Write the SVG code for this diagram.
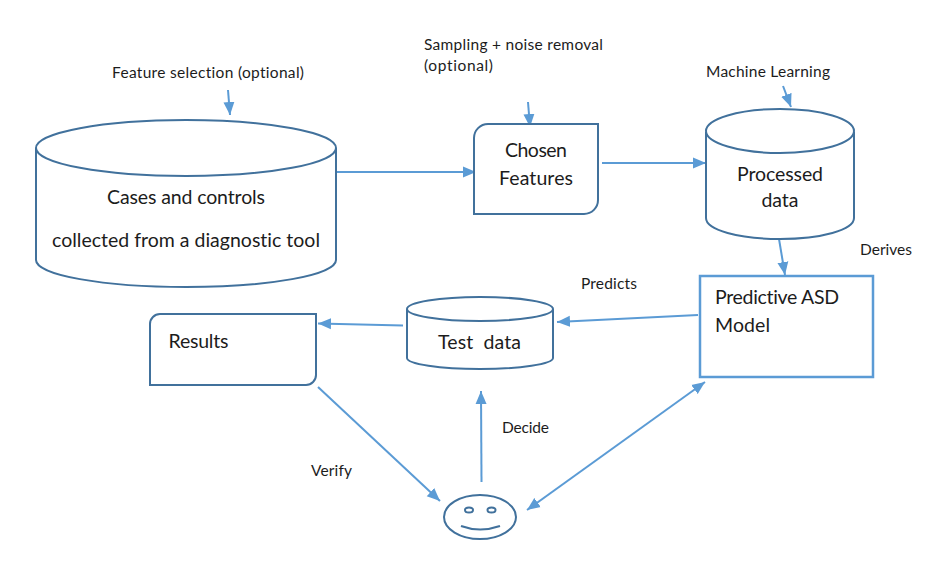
<svg xmlns="http://www.w3.org/2000/svg" width="950" height="565" viewBox="0 0 950 565">
<style>
.n{fill:#fff;stroke:#41719c;stroke-width:2}
.m{fill:#fff;stroke:#5b9bd5;stroke-width:2.5}
.c{fill:none;stroke:#5b9bd5;stroke-width:2}
.a{marker-end:url(#ah)}
.d{marker-start:url(#ahs);marker-end:url(#ah)}
text{font-family:Lato,"Open Sans",sans-serif;fill:#1c1c1c;white-space:pre;font-variant-ligatures:none}
.s{font-size:15.5px}
.l{font-size:19.5px}
</style>
<defs>
<marker id="ah" markerUnits="userSpaceOnUse" markerWidth="14" markerHeight="12" refX="13" refY="6" orient="auto"><path d="M0 0.5L13 6L0 11.5Z" fill="#5b9bd5"/></marker>
<marker id="ahs" markerUnits="userSpaceOnUse" markerWidth="14" markerHeight="12" refX="1" refY="6" orient="auto"><path d="M14 0.5L1 6L14 11.5Z" fill="#5b9bd5"/></marker>
</defs>
<rect width="950" height="565" fill="#fff"/>
<g id="connectors">
<line class="c a" x1="228" y1="90" x2="230" y2="115"/>
<line class="c a" x1="336" y1="172" x2="476" y2="172"/>
<line class="c a" x1="528" y1="102" x2="530" y2="127"/>
<line class="c a" x1="602" y1="163" x2="706" y2="163"/>
<line class="c a" x1="783" y1="86" x2="791" y2="107"/>
<line class="c a" x1="779" y1="239" x2="785" y2="275"/>
<line class="c a" x1="698" y1="315" x2="557" y2="322"/>
<line class="c a" x1="403" y1="325.5" x2="318" y2="323.5"/>
<line class="c a" x1="318" y1="387" x2="440" y2="501"/>
<line class="c a" x1="481.5" y1="482" x2="481" y2="391"/>
<line class="c d" x1="527" y1="510" x2="705" y2="382"/>
</g>
<g id="cases">
<path class="n" d="M36 148V260C36 275 103 287 186 287S336 275 336 260V148"/>
<ellipse class="n" cx="186" cy="148" rx="150" ry="28"/>
<text class="l" x="186" y="204" text-anchor="middle" textLength="158">Cases and controls</text>
<text class="l" x="186" y="247" text-anchor="middle" textLength="268">collected from a diagnostic tool</text>
</g>
<g id="chosen">
<path class="n" d="M488 124H598V200A14 14 0 0 1 584 214H474V138A14 14 0 0 1 488 124Z"/>
<text class="l" x="536" y="157" text-anchor="middle" textLength="62">Chosen</text>
<text class="l" x="536" y="185" text-anchor="middle" textLength="74">Features</text>
</g>
<g id="processed">
<path class="n" d="M706 132V218C706 230 739 239 780 239S854 230 854 218V132"/>
<ellipse class="n" cx="780" cy="131" rx="74" ry="22"/>
<text class="l" x="780" y="181" text-anchor="middle" textLength="86">Processed</text>
<text class="l" x="780" y="207" text-anchor="middle" textLength="37">data</text>
</g>
<g id="model">
<rect class="m" x="700" y="276" width="173" height="101"/>
<text class="l" x="715" y="304" textLength="124">Predictive ASD</text>
<text class="l" x="715" y="332" textLength="55">Model</text>
</g>
<g id="test">
<path class="n" d="M407 309V358C407 364 440 369 480 369S553 364 553 358V309"/>
<ellipse class="n" cx="480" cy="309" rx="73" ry="12"/>
<text class="l" x="438" y="349" textLength="83">Test  data</text>
</g>
<g id="results">
<path class="n" d="M160 314H316V375A10 10 0 0 1 306 385H150V324A10 10 0 0 1 160 314Z"/>
<text class="l" x="168.500" y="348" textLength="60">Results</text>
</g>
<g id="person">
<ellipse class="n" cx="480" cy="517" rx="36" ry="22"/>
<ellipse class="n" cx="469" cy="510" rx="4" ry="2.5"/>
<ellipse class="n" cx="491.5" cy="510" rx="4" ry="2.5"/>
<path class="n" style="fill:none" d="M461 526Q480 533 500 526"/>
</g>
<g id="labels">
<text class="s" x="112" y="78" textLength="192">Feature selection (optional)</text>
<text class="s" x="424" y="50" textLength="179">Sampling + noise removal</text>
<text class="s" x="424" y="71" textLength="69">(optional)</text>
<text class="s" x="706" y="77" textLength="124">Machine Learning</text>
<text class="s" x="860" y="255" textLength="52">Derives</text>
<text class="s" x="581" y="289" textLength="56">Predicts</text>
<text class="s" x="502" y="433" textLength="47">Decide</text>
<text class="s" x="311" y="476" textLength="41">Verify</text>
</g>
</svg>
